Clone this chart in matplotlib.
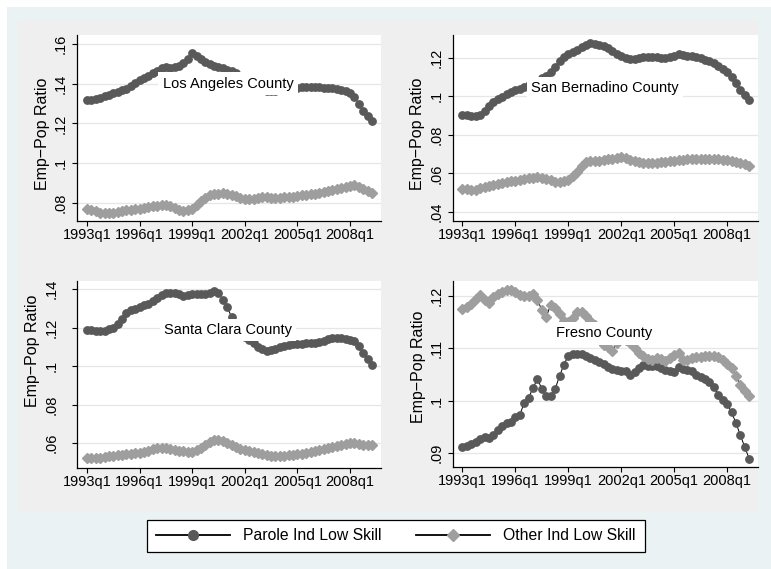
"""Emp-Pop ratio of low skill workers, parole vs other industries, four California counties"""
import matplotlib
matplotlib.use("Agg")
import matplotlib.pyplot as plt
from matplotlib.patches import Rectangle
from matplotlib.lines import Line2D

plt.rcParams['font.family'] = ['Liberation Sans', 'DejaVu Sans']

# quarter index 0 = 1993q1 ... 65 = 2009q2
quarters = list(range(66))
tick_pos = [0, 12, 24, 36, 48, 60]
tick_labels = ["1993q1", "1996q1", "1999q1", "2002q1", "2005q1", "2008q1"]

la_parole = [0.1320, 0.1319, 0.1323, 0.1330, 0.1337, 0.1345, 0.1352, 0.1360, 0.1367, 0.1375,
             0.1390, 0.1405, 0.1420, 0.1427, 0.1438, 0.1452, 0.1465, 0.1480, 0.1483, 0.1480,
             0.1482, 0.1490, 0.1505, 0.1525, 0.1553, 0.1540, 0.1525, 0.1510, 0.1497, 0.1490,
             0.1485, 0.1478, 0.1470, 0.1462, 0.1455, 0.1440, 0.1422, 0.1402, 0.1385, 0.1372,
             0.1366, 0.1364, 0.1363, 0.1364, 0.1366, 0.1368, 0.1370, 0.1374, 0.1378, 0.1382,
             0.1382, 0.1383, 0.1382, 0.1381, 0.1380, 0.1378, 0.1376, 0.1374, 0.1370, 0.1362,
             0.1352, 0.1335, 0.1300, 0.1262, 0.1235, 0.1212]
la_other = [0.0771, 0.0765, 0.0757, 0.0750, 0.0747, 0.0748, 0.0751, 0.0755, 0.0759, 0.0763,
            0.0766, 0.0769, 0.0771, 0.0775, 0.0779, 0.0783, 0.0786, 0.0790, 0.0792, 0.0783,
            0.0772, 0.0763, 0.0760, 0.0764, 0.0771, 0.0788, 0.0808, 0.0826, 0.0839, 0.0845,
            0.0847, 0.0848, 0.0847, 0.0842, 0.0833, 0.0824, 0.0818, 0.0819, 0.0822, 0.0826,
            0.0829, 0.0829, 0.0827, 0.0826, 0.0827, 0.0828, 0.0830, 0.0832, 0.0835, 0.0838,
            0.0842, 0.0844, 0.0846, 0.0849, 0.0853, 0.0858, 0.0863, 0.0869, 0.0875, 0.0881,
            0.0886, 0.0889, 0.0882, 0.0870, 0.0860, 0.0852]

sb_parole = [0.0903, 0.0902, 0.0899, 0.0898, 0.0905, 0.0925, 0.0950, 0.0969, 0.0985, 0.0998,
             0.1010, 0.1022, 0.1032, 0.1041, 0.1048, 0.1057, 0.1068, 0.1082, 0.1095, 0.1108,
             0.1125, 0.1155, 0.1185, 0.1205, 0.1218, 0.1230, 0.1242, 0.1255, 0.1268, 0.1276,
             0.1273, 0.1268, 0.1262, 0.1250, 0.1236, 0.1222, 0.1210, 0.1200, 0.1192, 0.1195,
             0.1202, 0.1205, 0.1203, 0.1203, 0.1205, 0.1198, 0.1197, 0.1205, 0.1212, 0.1220,
             0.1217, 0.1212, 0.1208, 0.1203, 0.1197, 0.1190, 0.1183, 0.1172, 0.1160, 0.1145,
             0.1128, 0.1100, 0.1070, 0.1035, 0.1005, 0.0980]
sb_other = [0.0521, 0.0518, 0.0514, 0.0516, 0.0522, 0.0530, 0.0536, 0.0540, 0.0545, 0.0550,
            0.0555, 0.0559, 0.0563, 0.0567, 0.0571, 0.0575, 0.0578, 0.0580, 0.0578, 0.0573,
            0.0565, 0.0557, 0.0555, 0.0560, 0.0566, 0.0585, 0.0610, 0.0638, 0.0662, 0.0666,
            0.0665, 0.0667, 0.0670, 0.0673, 0.0677, 0.0681, 0.0684, 0.0680, 0.0672, 0.0664,
            0.0657, 0.0654, 0.0655, 0.0656, 0.0655, 0.0657, 0.0660, 0.0663, 0.0665, 0.0668,
            0.0670, 0.0673, 0.0675, 0.0676, 0.0677, 0.0677, 0.0676, 0.0676, 0.0675, 0.0672,
            0.0668, 0.0664, 0.0659, 0.0654, 0.0647, 0.0639]

sc_parole = [0.1188, 0.1185, 0.1182, 0.1182, 0.1184, 0.1190, 0.1200, 0.1218, 0.1245, 0.1275,
             0.1290, 0.1298, 0.1305, 0.1315, 0.1325, 0.1340, 0.1355, 0.1368, 0.1378, 0.1382,
             0.1382, 0.1375, 0.1364, 0.1368, 0.1376, 0.1375, 0.1373, 0.1373, 0.1380, 0.1390,
             0.1378, 0.1345, 0.1305, 0.1255, 0.1215, 0.1175, 0.1150, 0.1135, 0.1120, 0.1100,
             0.1088, 0.1080, 0.1081, 0.1090, 0.1100, 0.1105, 0.1109, 0.1112, 0.1114, 0.1116,
             0.1118, 0.1119, 0.1120, 0.1123, 0.1128, 0.1138, 0.1146, 0.1148, 0.1147, 0.1143,
             0.1136, 0.1128, 0.1102, 0.1068, 0.1035, 0.1003]
sc_other = [0.0522, 0.0521, 0.0522, 0.0524, 0.0527, 0.0530, 0.0533, 0.0537, 0.0540, 0.0542,
            0.0544, 0.0546, 0.0548, 0.0553, 0.0560, 0.0567, 0.0573, 0.0575, 0.0572, 0.0568,
            0.0564, 0.0560, 0.0556, 0.0553, 0.0553, 0.0562, 0.0575, 0.0590, 0.0605, 0.0615,
            0.0618, 0.0608, 0.0598, 0.0588, 0.0578, 0.0570, 0.0564, 0.0558, 0.0552, 0.0546,
            0.0541, 0.0537, 0.0534, 0.0532, 0.0532, 0.0534, 0.0537, 0.0540, 0.0542, 0.0545,
            0.0549, 0.0553, 0.0557, 0.0563, 0.0569, 0.0574, 0.0579, 0.0585, 0.0591, 0.0596,
            0.0600, 0.0598, 0.0593, 0.0589, 0.0588, 0.0587]

fr_parole = [0.0911, 0.0914, 0.0917, 0.0921, 0.0926, 0.0931, 0.0929, 0.0935, 0.0944, 0.0952,
             0.0957, 0.0959, 0.0969, 0.0973, 0.0996, 0.1006, 0.1024, 0.1042, 0.1022, 0.1009,
             0.1008, 0.1022, 0.1047, 0.1069, 0.1086, 0.1089, 0.1089, 0.1089, 0.1086, 0.1082,
             0.1077, 0.1074, 0.1070, 0.1064, 0.1060, 0.1058, 0.1057, 0.1056, 0.1050, 0.1055,
             0.1062, 0.1069, 0.1066, 0.1067, 0.1066, 0.1062, 0.1058, 0.1056, 0.1055, 0.1064,
             0.1061, 0.1059, 0.1057, 0.1050, 0.1046, 0.1042, 0.1035, 0.1027, 0.1011, 0.1001,
             0.0993, 0.0978, 0.0957, 0.0934, 0.0911, 0.0889]
fr_other = [0.1176, 0.1180, 0.1185, 0.1195, 0.1202, 0.1193, 0.1186, 0.1198, 0.1204, 0.1208,
            0.1212, 0.1211, 0.1207, 0.1202, 0.1200, 0.1200, 0.1205, 0.1193, 0.1173, 0.1161,
            0.1183, 0.1177, 0.1165, 0.1153, 0.1150, 0.1158, 0.1170, 0.1170, 0.1162, 0.1152,
            0.1145, 0.1128, 0.1106, 0.1102, 0.1095, 0.1110, 0.1122, 0.1116, 0.1110, 0.1101,
            0.1092, 0.1085, 0.1080, 0.1078, 0.1081, 0.1079, 0.1076, 0.1082, 0.1087, 0.1092,
            0.1078, 0.1078, 0.1081, 0.1083, 0.1083, 0.1085, 0.1086, 0.1085, 0.1083, 0.1078,
            0.1070, 0.1062, 0.1048, 0.1030, 0.1018, 0.1009]

counties = ["Los Angeles County", "San Bernadino County", "Santa Clara County", "Fresno County"]
parole_series = [la_parole, sb_parole, sc_parole, fr_parole]
other_series = [la_other, sb_other, sc_other, fr_other]
y_ticks = [[0.08, 0.10, 0.12, 0.14, 0.16],
           [0.04, 0.06, 0.08, 0.10, 0.12],
           [0.06, 0.08, 0.10, 0.12, 0.14],
           [0.09, 0.10, 0.11, 0.12]]
y_tick_labels = [[".08", ".1", ".12", ".14", ".16"],
                 [".04", ".06", ".08", ".1", ".12"],
                 [".06", ".08", ".1", ".12", ".14"],
                 [".09", ".1", ".11", ".12"]]
label_pos = [(32.2, 0.1400), (32.3, 0.1043), (32.2, 0.1187), (32.1, 0.1129)]

# layout (pixels in the 771x569 picture)
W, H = 771, 569
panel_px = [(77, 35, 381, 221), (453, 35, 758, 221), (77, 281, 381, 468), (453, 281, 758, 467)]
y_lims = [(0.0709, 0.1645), (0.0353, 0.1319), (0.0470, 0.1442), (0.0873, 0.1229)]
x_lims = [(-2.28, 67.08), (-2.15, 67.0), (-2.28, 67.08), (-2.15, 67.0)]
ylabel_xy = [(-0.112, 0.468), (-0.115, 0.468), (-0.145, 0.626), (-0.112, 0.538)]
ytick_pad = [3.6, 3.6, 10.0, 3.6]

dark = '#595959'
light = '#9e9e9e'


def frac(l, t, r, b):
    return [l / W, 1 - b / H, (r - l) / W, (b - t) / H]


fig = plt.figure(figsize=(W / 100, H / 100), dpi=100)
fig.patch.set_facecolor('white')
fig.add_artist(Rectangle((7 / W, 0), 1 - 7 / W, 1 - 7 / H, transform=fig.transFigure,
                         facecolor='#eaf2f3', edgecolor='none', zorder=-3))
fig.add_artist(Rectangle(frac(18, 20, 758, 512)[:2], 740 / W, 492 / H, transform=fig.transFigure,
                         facecolor='#efefef', edgecolor='none', zorder=-2))

for i in range(4):
    ax = fig.add_axes(frac(*panel_px[i]))
    ax.set_facecolor('white')
    ax.plot(quarters, parole_series[i], color='black', lw=0.7, marker='o', ms=5.3,
            markerfacecolor=dark, markeredgecolor=dark, zorder=3)
    ax.plot(quarters, other_series[i], color='black', lw=0.7, marker='D', ms=5.3,
            markerfacecolor=light, markeredgecolor=light, zorder=4)
    ax.text(label_pos[i][0], label_pos[i][1], counties[i], ha='center', va='center',
            fontsize=10.5, zorder=10,
            bbox=dict(facecolor='white', edgecolor='none', boxstyle='square,pad=0.3'))
    ax.set_xlim(*x_lims[i])
    ax.set_ylim(*y_lims[i])
    ax.set_xticks(tick_pos)
    ax.set_xticklabels(tick_labels, fontsize=10.5)
    ax.set_yticks(y_ticks[i])
    ax.set_yticklabels(y_tick_labels[i], fontsize=10.5, rotation=90, va='center')
    ax.grid(axis='y', color='#e6e6e6', lw=0.9, zorder=0)
    ax.set_axisbelow(True)
    for s in ['top', 'right']:
        ax.spines[s].set_visible(False)
    for s in ['left', 'bottom']:
        ax.spines[s].set_linewidth(0.9)
    ax.tick_params(axis='x', length=3.5, width=0.8, pad=1.5)
    ax.tick_params(axis='y', length=3.5, width=0.8, pad=ytick_pad[i])
    ax.set_ylabel("Emp\u2212Pop Ratio", fontsize=11.5)
    ax.yaxis.set_label_coords(*ylabel_xy[i])
    ax.yaxis.label.set_va('center')

handles = [Line2D([], [], color='black', lw=1.3, marker='o', ms=7,
                  markerfacecolor=dark, markeredgecolor=dark),
           Line2D([], [], color='black', lw=1.3, marker='D', ms=6.5,
                  markerfacecolor=light, markeredgecolor=light)]
leg = fig.legend(handles, ["Parole Ind Low Skill", "Other Ind Low Skill"], loc='center',
                 bbox_to_anchor=(396 / W, 1 - 536 / H), ncol=2, fontsize=11.3,
                 frameon=True, fancybox=False, edgecolor='black', framealpha=1,
                 handlelength=4.7, handletextpad=0.85, columnspacing=2.2, borderpad=0.55)
leg.get_frame().set_linewidth(0.9)

fig.savefig("out.png", dpi=100)
